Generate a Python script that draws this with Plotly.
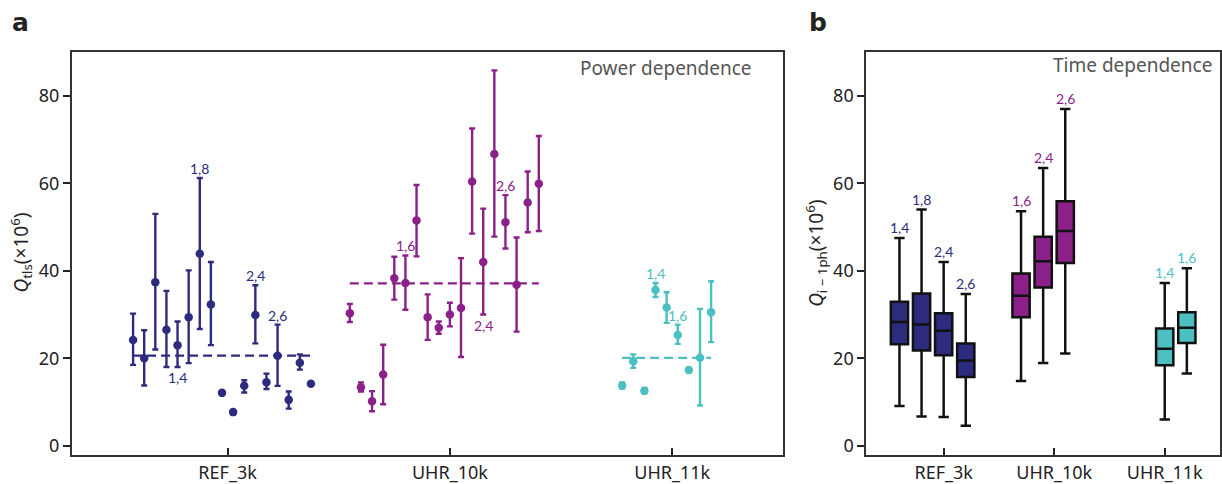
import plotly.graph_objects as go

# ---------------- data ----------------
categories = ["REF_3k", "UHR_10k", "UHR_11k"]
colors = ["#2d2b7d", "#8c2089", "#4cbfc3"]

# panel a: power dependence (value, upper error end, lower error end)
ref_val = [24.2, 20.0, 37.4, 26.5, 23.0, 29.4, 43.9, 32.3, 12.1, 7.7, 13.7, 29.9, 14.5, 20.6, 10.5, 19.0, 14.2]
ref_hi  = [30.2, 26.4, 53.0, 35.4, 28.4, 40.1, 61.2, 42.0, 12.4, 8.0, 15.0, 36.7, 16.5, 27.7, 12.4, 20.9, 14.5]
ref_lo  = [18.5, 13.8, 22.0, 18.0, 18.0, 18.9, 26.7, 23.0, 11.8, 7.4, 12.2, 23.4, 13.0, 13.7, 8.5, 17.4, 13.9]

u10_val = [30.3, 13.4, 10.2, 16.3, 38.3, 37.2, 51.5, 29.4, 27.0, 30.0, 31.5, 60.4, 42.0, 66.7, 51.1, 36.8, 55.6, 59.9]
u10_hi  = [32.4, 14.5, 12.5, 23.1, 43.2, 43.5, 59.6, 34.6, 28.4, 32.7, 42.9, 72.5, 54.2, 85.8, 57.3, 47.6, 62.7, 70.8]
u10_lo  = [28.3, 12.4, 7.9, 9.5, 33.4, 31.1, 43.3, 24.2, 25.6, 27.3, 20.3, 48.5, 30.0, 47.8, 45.1, 26.1, 48.8, 49.1]

u11_val = [13.8, 19.3, 12.6, 35.6, 31.6, 25.3, 17.3, 20.1, 30.5]
u11_hi  = [14.5, 20.9, 13.2, 37.2, 35.1, 27.7, 17.8, 31.3, 37.6]
u11_lo  = [13.1, 17.8, 12.0, 34.0, 28.1, 23.3, 16.8, 9.2, 23.7]

group_means = [20.6, 37.1, 20.1]

# labelled points in panel a: (group, point index, text, above/below)
a_labels = [
    (0, 6, "1,8", "above"), (0, 4, "1,4", "below"), (0, 11, "2,4", "above"), (0, 13, "2,6", "above"),
    (1, 5, "1,6", "above"), (1, 12, "2,4", "below"), (1, 14, "2,6", "above"),
    (2, 3, "1,4", "above"), (2, 5, "1,6", "above"),
]

# panel b: time dependence box statistics
b_group   = [0, 0, 0, 0, 1, 1, 1, 2, 2]
b_offset  = [-0.4, -0.2, 0.0, 0.2, -0.3, -0.1, 0.1, 0.0, 0.2]
b_label   = ["1,4", "1,8", "2,4", "2,6", "1,6", "2,4", "2,6", "1,4", "1,6"]
b_low     = [9.1, 6.7, 6.6, 4.6, 14.8, 18.9, 21.1, 6.0, 16.5]
b_q1      = [23.2, 21.8, 20.7, 15.7, 29.4, 36.2, 41.8, 18.4, 23.5]
b_median  = [28.3, 27.7, 26.3, 19.5, 34.3, 42.2, 49.1, 22.2, 27.0]
b_q3      = [32.9, 34.8, 30.3, 23.4, 39.4, 47.8, 55.9, 26.8, 30.5]
b_high    = [47.5, 54.0, 42.0, 34.7, 53.6, 63.5, 77.0, 37.2, 40.6]

# ---------------- figure ----------------
fig = go.Figure()
W = 1222
TOP, BOT = 52, 458
H_PLOT = BOT - TOP


def py(pix):
    """pixel row -> paper y"""
    return (BOT - pix) / H_PLOT


dom_a = [72 / W, 784 / W]
dom_b = [867 / W, 1221 / W]

series = [(ref_val, ref_hi, ref_lo), (u10_val, u10_hi, u10_lo), (u11_val, u11_hi, u11_lo)]
xs_all = []
for g, (v, hi, lo) in enumerate(series):
    n = len(v)
    xs = [g - 0.025 + (i - (n - 1) / 2) * 0.05 for i in range(n)]
    xs_all.append(xs)
    fig.add_trace(go.Scatter(
        x=[xs[0], xs[-1]], y=[group_means[g]] * 2, mode="lines",
        line=dict(color=colors[g], width=2.2, dash="9px,5px"),
        xaxis="x", yaxis="y", showlegend=False))
    fig.add_trace(go.Scatter(
        x=xs, y=v, mode="markers",
        marker=dict(color=colors[g], size=8.5),
        error_y=dict(type="data", symmetric=False,
                     array=[h - c for h, c in zip(hi, v)],
                     arrayminus=[c - l for l, c in zip(lo, v)],
                     color=colors[g], thickness=2.4, width=3),
        xaxis="x", yaxis="y", showlegend=False))

annotations = []
LBL_FONT = "Lato"
for g, i, txt, pos in a_labels:
    v, hi, lo = series[g]
    x = xs_all[g][i]
    if pos == "above":
        annotations.append(dict(x=x, y=hi[i], xref="x", yref="y", text=txt, showarrow=False,
                                yanchor="bottom", yshift=-1,
                                font=dict(family=LBL_FONT, size=14, color=colors[g])))
    else:
        annotations.append(dict(x=x, y=lo[i], xref="x", yref="y", text=txt, showarrow=False,
                                yanchor="top", yshift=0,
                                font=dict(family=LBL_FONT, size=14, color=colors[g])))

for k in range(len(b_group)):
    g = b_group[k]
    x = g + b_offset[k]
    fig.add_trace(go.Box(
        x=[x], q1=[b_q1[k]], median=[b_median[k]], q3=[b_q3[k]],
        lowerfence=[b_low[k]], upperfence=[b_high[k]],
        width=0.156, whiskerwidth=0.6,
        fillcolor=colors[g], line=dict(color="#111111", width=2.5),
        boxpoints=False, xaxis="x2", yaxis="y2", showlegend=False, hoverinfo="skip"))
    annotations.append(dict(x=x, y=b_high[k], xref="x2", yref="y2", text=b_label[k], showarrow=False,
                            yanchor="bottom", yshift=0,
                            font=dict(family=LBL_FONT, size=14, color=colors[g])))

annotations += [
    dict(x=755 / W, y=py(68), xref="paper", yref="paper", text="Power dependence", showarrow=False,
         xanchor="right", yanchor="middle",
         font=dict(family="Noto Sans", size=19, color="#555555")),
    dict(x=1215 / W, y=py(65), xref="paper", yref="paper", text="Time dependence", showarrow=False,
         xanchor="right", yanchor="middle",
         font=dict(family="Noto Sans", size=19, color="#555555")),
    dict(x=10 / W, y=py(22), xref="paper", yref="paper", text="<b>a</b>", showarrow=False,
         xanchor="left", yanchor="middle", font=dict(family="DejaVu Sans", size=25, color="#222222")),
    dict(x=808 / W, y=py(22), xref="paper", yref="paper", text="<b>b</b>", showarrow=False,
         xanchor="left", yanchor="middle", font=dict(family="DejaVu Sans", size=25, color="#222222")),
    dict(x=21 / W, y=py(254), xref="paper", yref="paper",
         text="<i>Q</i><sub>tls</sub>(×10<sup>6</sup>)", textangle=-90, showarrow=False,
         xanchor="center", yanchor="middle", font=dict(family="Noto Sans", size=19, color="#222222")),
    dict(x=816 / W, y=py(255), xref="paper", yref="paper",
         text="<i>Q</i><sub>i − 1ph</sub>(×10<sup>6</sup>)", textangle=-90, showarrow=False,
         xanchor="center", yanchor="middle", font=dict(family="Noto Sans", size=19, color="#222222")),
]

xax_common = dict(range=[-0.7, 2.5], tickvals=[0, 1, 2], ticktext=categories,
                  ticks="inside", ticklen=7, tickwidth=2, tickcolor="#222222",
                  showline=True, linecolor="#333333", linewidth=2, mirror=True,
                  showgrid=False, zeroline=False,
                  tickfont=dict(family="Noto Sans", size=18, color="#222222"))
yax_common = dict(range=[-2.1, 90], tickvals=[0, 20, 40, 60, 80],
                  ticks="outside", ticklen=7, tickwidth=2, tickcolor="#222222",
                  showline=True, linecolor="#333333", linewidth=2, mirror=True,
                  showgrid=False, zeroline=False,
                  tickfont=dict(family="Noto Sans", size=18, color="#222222"))

fig.update_layout(
    width=1222, height=484,
    margin=dict(l=0, r=0, t=TOP, b=484 - BOT),
    paper_bgcolor="white", plot_bgcolor="white",
    boxmode="overlay",
    xaxis=dict(domain=dom_a, anchor="y", **xax_common),
    yaxis=dict(domain=[0, 1], anchor="x", **yax_common),
    xaxis2=dict(domain=dom_b, anchor="y2", **xax_common),
    yaxis2=dict(domain=[0, 1], anchor="x2", **yax_common),
    annotations=annotations,
)

fig.write_html("out.html")
